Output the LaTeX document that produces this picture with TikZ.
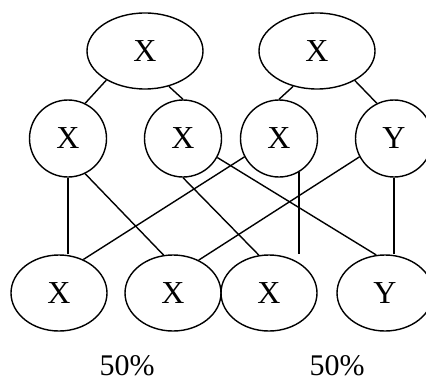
\documentclass[tikz,border=0pt]{standalone}
\usepackage{fontspec}
\setmainfont{Liberation Serif}
\usetikzlibrary{shapes.geometric}

\begin{document}
\begin{tikzpicture}[x=0.5pt,y=-0.5pt,line width=0.7pt,
  font=\fontsize{16}{19}\selectfont,
  topnode/.style={draw,ellipse,inner sep=0pt,minimum width=58pt,minimum height=38pt},
  midnode/.style={draw,circle,inner sep=0pt,minimum size=38.5pt},
  botnode/.style={draw,ellipse,inner sep=0pt,minimum width=48pt,minimum height=38pt},
  share/.style={anchor=base,inner sep=0pt,font=\fontsize{15}{18}\selectfont}]
\useasboundingbox (0,0) rectangle (426,379) ;
\clip (0,0) rectangle (426,379) ;
\node[topnode] (t1) at (145,51) {X} ;
\node[topnode] (t2) at (317,51) {X} ;
\node[midnode] (m1) at (68,138.5) {X} ;
\node[midnode] (m2) at (183,138.5) {X} ;
\node[midnode] (m3) at (279,138.5) {X} ;
\node[midnode] (m4) at (394,138.5) {Y} ;
\node[botnode] (b1) at (59,293) {X} ;
\node[botnode] (b2) at (173,293) {X} ;
\node[botnode] (b3) at (269,293) {X} ;
\node[botnode] (b4) at (385,293) {Y} ;
\node[share] (p1) at (127,375) {50\%} ;
\node[share] (p2) at (337,375) {50\%} ;
\draw (t1.217) to (m1.64) ;
\draw (t1.304) to (m2.north) ;
\draw (t2.236) to (m3.north) ;
\draw (t2.322) to (m4.116) ;
\draw (m1.south) to (m1.south |- b1.north) ;
\draw (m1.296) to (b2.104) ;
\draw (m2.south) to (b3.105) ;
\draw (m2.331) to (b4.103) ;
\draw (m3.208) to (b1.54) ;
\draw (m3.-59) to (m3.-59 |- b3.north) ;
\draw (m4.208) to (b2.52) ;
\draw (m4.south) to (m4.south |- b4.north) ;
\end{tikzpicture}
\end{document}
